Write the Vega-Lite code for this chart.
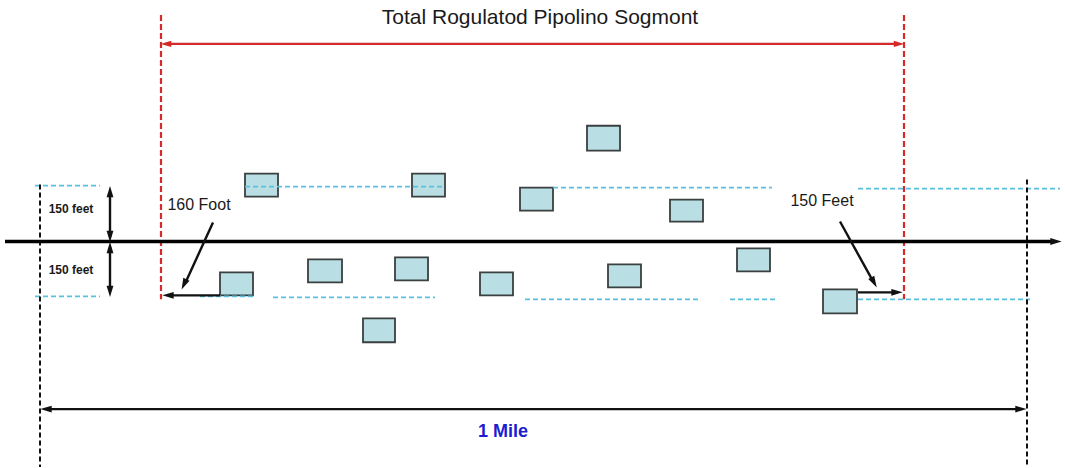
{
  "$schema": "https://vega.github.io/schema/vega-lite/v6.json",
  "width": 1065,
  "height": 468,
  "autosize": {"type": "fit", "contains": "padding"},
  "padding": 0,
  "background": "white",
  "config": {"view": {"stroke": null}},
  "datasets": {
    "segments": [
      {"kind": "red_dash", "x": 161, "y": 15, "x2": 161, "y2": 300},
      {"kind": "red_dash", "x": 904, "y": 15, "x2": 904, "y2": 300},
      {"kind": "red_arrow", "x": 165, "y": 44, "x2": 898, "y2": 44},
      {"kind": "black_dash", "x": 40, "y": 185, "x2": 40, "y2": 468},
      {"kind": "black_dash", "x": 1027, "y": 180, "x2": 1027, "y2": 468},
      {"kind": "pipe", "x": 5, "y": 242, "x2": 1052, "y2": 242},
      {"kind": "blue", "x": 35, "y": 186, "x2": 100, "y2": 186},
      {"kind": "blue", "x": 245, "y": 187, "x2": 445, "y2": 187},
      {"kind": "blue", "x": 553, "y": 188, "x2": 772, "y2": 188},
      {"kind": "blue", "x": 858, "y": 189, "x2": 1060, "y2": 189},
      {"kind": "blue", "x": 35, "y": 297, "x2": 100, "y2": 297},
      {"kind": "blue", "x": 200, "y": 297, "x2": 253, "y2": 297},
      {"kind": "blue", "x": 273, "y": 298, "x2": 435, "y2": 298},
      {"kind": "blue", "x": 525, "y": 300, "x2": 700, "y2": 300},
      {"kind": "blue", "x": 730, "y": 300, "x2": 775, "y2": 300},
      {"kind": "blue", "x": 858, "y": 300, "x2": 1030, "y2": 300},
      {"kind": "black_arrow", "x": 110, "y": 192, "x2": 110, "y2": 237},
      {"kind": "black_arrow", "x": 110, "y": 248, "x2": 110, "y2": 292},
      {"kind": "black_arrow", "x": 213, "y": 223, "x2": 186, "y2": 282},
      {"kind": "black_arrow", "x": 840, "y": 222, "x2": 872, "y2": 280},
      {"kind": "black_arrow", "x": 220, "y": 296, "x2": 170, "y2": 296},
      {"kind": "black_arrow", "x": 858, "y": 293, "x2": 895, "y2": 293},
      {"kind": "black_arrow", "x": 48, "y": 410, "x2": 1019, "y2": 410}
    ],
    "heads": [
      {"kind": "red", "x": 166, "y": 44, "dir": 270},
      {"kind": "red", "x": 899, "y": 44, "dir": 90},
      {"kind": "black", "x": 110, "y": 192, "dir": 0},
      {"kind": "black", "x": 110, "y": 237, "dir": 180},
      {"kind": "black", "x": 110, "y": 248, "dir": 0},
      {"kind": "black", "x": 110, "y": 292, "dir": 180},
      {"kind": "black", "x": 1056, "y": 242, "dir": 90},
      {"kind": "black", "x": 184, "y": 285, "dir": 205},
      {"kind": "black", "x": 874, "y": 283, "dir": 151},
      {"kind": "black", "x": 168, "y": 296, "dir": 270},
      {"kind": "black", "x": 897, "y": 293, "dir": 90},
      {"kind": "black", "x": 46, "y": 410, "dir": 270},
      {"kind": "black", "x": 1021, "y": 410, "dir": 90}
    ],
    "boxes": [
      {"x": 245, "x2": 278, "y": 174, "y2": 197},
      {"x": 412, "x2": 445, "y": 174, "y2": 197},
      {"x": 587, "x2": 620, "y": 126, "y2": 151},
      {"x": 520, "x2": 553, "y": 188, "y2": 211},
      {"x": 670, "x2": 703, "y": 200, "y2": 222},
      {"x": 737, "x2": 770, "y": 249, "y2": 272},
      {"x": 220, "x2": 253, "y": 273, "y2": 296},
      {"x": 308, "x2": 342, "y": 260, "y2": 283},
      {"x": 395, "x2": 428, "y": 258, "y2": 281},
      {"x": 480, "x2": 513, "y": 273, "y2": 296},
      {"x": 608, "x2": 641, "y": 265, "y2": 288},
      {"x": 363, "x2": 395, "y": 319, "y2": 343},
      {"x": 823, "x2": 857, "y": 290, "y2": 314}
    ],
    "labels": [
      {"kind": "title", "x": 540, "y": 18, "label": "Total Rogulatod Pipolino Sogmont"},
      {"kind": "small", "x": 71, "y": 209, "label": "150 feet"},
      {"kind": "small", "x": 71, "y": 271, "label": "150 feet"},
      {"kind": "callout", "x": 199, "y": 205, "label": "160 Foot"},
      {"kind": "callout", "x": 822, "y": 201, "label": "150 Feet"},
      {"kind": "mile", "x": 503, "y": 433, "label": "1 Mile"}
    ]
  },
  "encoding": {
    "x": {"field": "x", "type": "quantitative", "scale": {"domain": [0, 1065], "nice": false, "zero": false}, "axis": null},
    "y": {"field": "y", "type": "quantitative", "scale": {"domain": [0, 468], "nice": false, "zero": false, "reverse": true}, "axis": null}
  },
  "layer": [
    {
      "data": {"name": "boxes"},
      "mark": {"type": "rect", "fill": "#b9dfe5", "stroke": "#3a3f3f", "strokeWidth": 1.8},
      "encoding": {"x2": {"field": "x2"}, "y2": {"field": "y2"}}
    },
    {
      "data": {"name": "segments"},
      "transform": [{"filter": "datum.kind == 'blue'"}],
      "mark": {"type": "rule", "color": "#5bbfe0", "strokeWidth": 1.6, "strokeDash": [5, 3]},
      "encoding": {"x2": {"field": "x2"}, "y2": {"field": "y2"}}
    },
    {
      "data": {"name": "segments"},
      "transform": [{"filter": "datum.kind == 'red_dash'"}],
      "mark": {"type": "rule", "color": "#d42a2a", "strokeWidth": 2.2, "strokeDash": [6, 3]},
      "encoding": {"x2": {"field": "x2"}, "y2": {"field": "y2"}}
    },
    {
      "data": {"name": "segments"},
      "transform": [{"filter": "datum.kind == 'red_arrow'"}],
      "mark": {"type": "rule", "color": "#d42a2a", "strokeWidth": 2.2},
      "encoding": {"x2": {"field": "x2"}, "y2": {"field": "y2"}}
    },
    {
      "data": {"name": "segments"},
      "transform": [{"filter": "datum.kind == 'black_dash'"}],
      "mark": {"type": "rule", "color": "#111111", "strokeWidth": 2, "strokeDash": [5, 3]},
      "encoding": {"x2": {"field": "x2"}, "y2": {"field": "y2"}}
    },
    {
      "data": {"name": "segments"},
      "transform": [{"filter": "datum.kind == 'pipe'"}],
      "mark": {"type": "rule", "color": "#000000", "strokeWidth": 3.5},
      "encoding": {"x2": {"field": "x2"}, "y2": {"field": "y2"}}
    },
    {
      "data": {"name": "segments"},
      "transform": [{"filter": "datum.kind == 'black_arrow'"}],
      "mark": {"type": "rule", "color": "#111111", "strokeWidth": 2.4},
      "encoding": {"x2": {"field": "x2"}, "y2": {"field": "y2"}}
    },
    {
      "data": {"name": "heads"},
      "transform": [{"filter": "datum.kind == 'red'"}],
      "mark": {"type": "point", "shape": "M0,-1L0.6,1L-0.6,1Z", "filled": true, "color": "#d42a2a", "size": 110, "opacity": 1},
      "encoding": {"angle": {"field": "dir", "type": "quantitative", "scale": {"domain": [0, 360], "range": [0, 360]}}}
    },
    {
      "data": {"name": "heads"},
      "transform": [{"filter": "datum.kind == 'black'"}],
      "mark": {"type": "point", "shape": "M0,-1L0.6,1L-0.6,1Z", "filled": true, "color": "#111111", "size": 130, "opacity": 1},
      "encoding": {"angle": {"field": "dir", "type": "quantitative", "scale": {"domain": [0, 360], "range": [0, 360]}}}
    },
    {
      "data": {"name": "labels"},
      "transform": [{"filter": "datum.kind == 'title'"}],
      "mark": {"type": "text", "font": "Liberation Sans", "fontSize": 21, "color": "#1a1a1a", "align": "center", "baseline": "middle"},
      "encoding": {"text": {"field": "label"}}
    },
    {
      "data": {"name": "labels"},
      "transform": [{"filter": "datum.kind == 'small'"}],
      "mark": {"type": "text", "font": "Liberation Sans", "fontSize": 12, "fontWeight": "bold", "color": "#1a1a1a", "align": "center", "baseline": "middle"},
      "encoding": {"text": {"field": "label"}}
    },
    {
      "data": {"name": "labels"},
      "transform": [{"filter": "datum.kind == 'callout'"}],
      "mark": {"type": "text", "font": "Liberation Sans", "fontSize": 16, "color": "#1a1a1a", "align": "center", "baseline": "middle"},
      "encoding": {"text": {"field": "label"}}
    },
    {
      "data": {"name": "labels"},
      "transform": [{"filter": "datum.kind == 'mile'"}],
      "mark": {"type": "text", "font": "Liberation Sans", "fontSize": 18, "fontWeight": "bold", "color": "#1c1cd0", "align": "center", "baseline": "middle"},
      "encoding": {"text": {"field": "label"}}
    }
  ]
}
